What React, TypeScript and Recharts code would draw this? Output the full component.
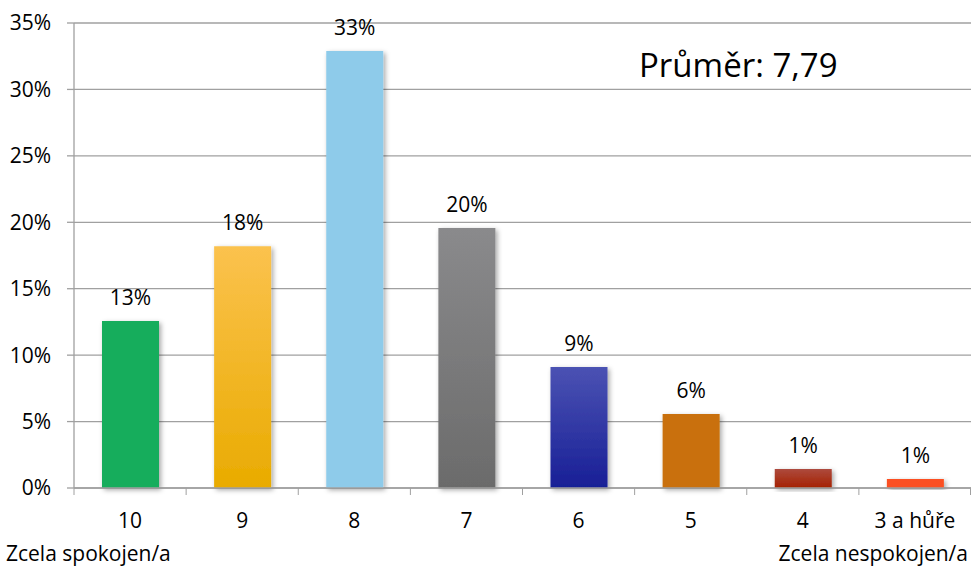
import React from 'react';
import { BarChart, Bar, XAxis, YAxis, CartesianGrid, Cell, LabelList } from 'recharts';

const categories = ['10', '9', '8', '7', '6', '5', '4', '3 a hůře'];
const shares = [0.1257, 0.182, 0.329, 0.1957, 0.091, 0.0557, 0.0143, 0.0068];
const yTicks = [0, 0.05, 0.1, 0.15, 0.2, 0.25, 0.3, 0.35];
const leftNote = 'Zcela spokojen/a';
const rightNote = 'Zcela nespokojen/a';
const meanText = 'Průměr: 7,79';

const gradTop = ['#18ad5c', '#fbc24e', '#8ecbea', '#8a8a8c', '#4b52b3', '#c96f08', '#ad4a3e', '#fb5020'];
const gradBottom = ['#18ad5c', '#e9ab00', '#8ecbea', '#6b6b6b', '#181f96', '#c96f08', '#a52100', '#fb5020'];

const data = categories.map((c, i) => ({ name: c, value: shares[i] }));

const W = 971;
const H = 566;
const FONT = '"Open Sans", "Noto Sans", sans-serif';
const AXIS = '#a0a0a0';
const FS = 21;

const XTick = (props: any) => {
  const { x, y, payload, index } = props;
  const bw = (W - 74) / categories.length;
  return (
    <g>
      <line x1={x - bw / 2} y1={y - 8} x2={x - bw / 2} y2={y - 1} stroke={AXIS} />
      {index === categories.length - 1 && (
        <line x1={x + bw / 2 - 0.5} y1={y - 8} x2={x + bw / 2 - 0.5} y2={y - 1} stroke={AXIS} />
      )}
      <text x={x} y={y + 32} textAnchor="middle" fontSize={FS} fill="#000" fontFamily={FONT}>
        {payload.value}
      </text>
    </g>
  );
};

export default function App() {
  return (
    <div style={{ position: 'absolute', left: 0, top: 0, width: W, height: H, background: '#fff', fontFamily: FONT, overflow: 'hidden' }}>
      <BarChart width={W} height={H} data={data} margin={{ top: 23, right: 0, bottom: 0, left: 0 }}>
        <defs>
          {categories.map((c, i) => (
            <linearGradient key={c} id={`g${i}`} x1="0" y1="0" x2="0" y2="1">
              <stop offset="0%" stopColor={gradTop[i]} />
              <stop offset="100%" stopColor={gradBottom[i]} />
            </linearGradient>
          ))}
          <filter id="shadow" x="-20%" y="-20%" width="140%" height="140%">
            <feDropShadow dx="2" dy="2" stdDeviation="2.5" floodColor="#000" floodOpacity="0.35" />
          </filter>
        </defs>
        <CartesianGrid vertical={false} stroke={AXIS} strokeWidth={1.3} />
        <XAxis
          dataKey="name"
          height={78}
          axisLine={{ stroke: AXIS, strokeWidth: 1.3 }}
          tickLine={false}
          tick={<XTick />}
          interval={0}
        />
        <YAxis
          width={74}
          domain={[0, 0.35]}
          ticks={yTicks}
          tickFormatter={(v: number) => `${Math.round(v * 100)}%`}
          axisLine={{ stroke: AXIS, strokeWidth: 1.3 }}
          tickLine={{ stroke: AXIS, strokeWidth: 1.3 }}
          tickSize={7}
          tickMargin={16}
          tick={{ fontSize: FS, fill: '#000', fontFamily: FONT }}
          interval={0}
        />
        <Bar dataKey="value" barSize={57} isAnimationActive={false} style={{ filter: 'url(#shadow)' }}>
          {data.map((d, i) => (
            <Cell key={d.name} fill={`url(#g${i})`} />
          ))}
          <LabelList
            dataKey="value"
            position="top"
            offset={16}
            formatter={(v: any) => `${Math.round(Number(v) * 100)}%`}
            style={{ fontSize: FS, fill: '#000', fontFamily: FONT }}
          />
        </Bar>
      </BarChart>
      <div style={{ position: 'absolute', left: 6, top: 541, fontSize: FS, lineHeight: '24px', color: '#000', whiteSpace: 'nowrap' }}>{leftNote}</div>
      <div style={{ position: 'absolute', right: 3, top: 541, fontSize: FS, lineHeight: '24px', color: '#000', whiteSpace: 'nowrap' }}>{rightNote}</div>
      <div style={{ position: 'absolute', left: 639, top: 42, fontSize: 33, color: '#000', whiteSpace: 'nowrap' }}>{meanText}</div>
    </div>
  );
}
